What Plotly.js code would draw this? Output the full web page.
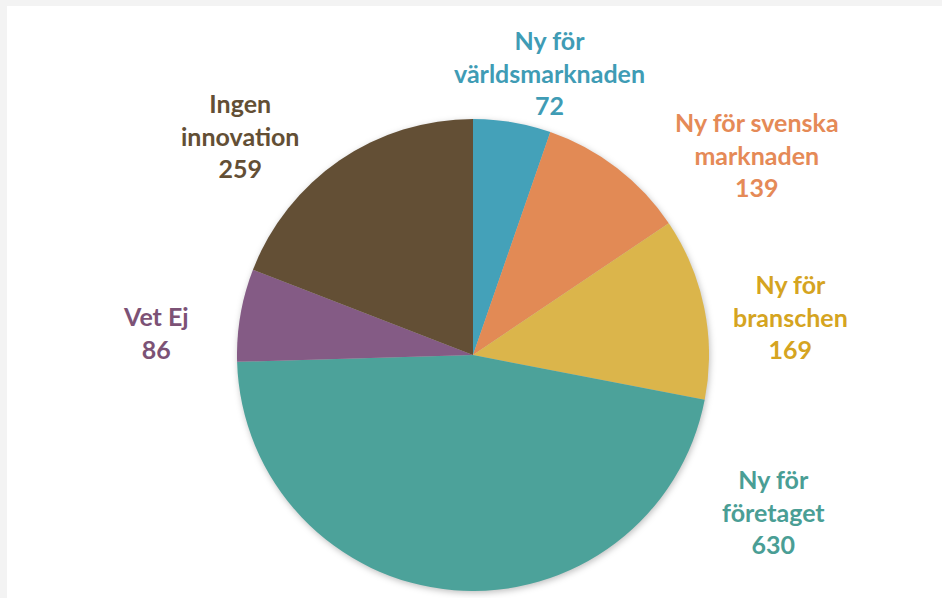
<!DOCTYPE html>
<html>
<head>
<meta charset="utf-8">
<script src="https://cdn.plot.ly/plotly-3.0.1.min.js"></script>
<style>
  html, body { margin: 0; padding: 0; background: #ffffff; }
  #chart { width: 942px; height: 598px; }
  .pielayer { filter: drop-shadow(1px 2px 3px rgba(0,0,0,0.25)); }
</style>
</head>
<body>
<div id="chart"></div>
<script>
// Data
const categories = ["Ny för världsmarknaden", "Ny för svenska marknaden", "Ny för branschen", "Ny för företaget", "Vet Ej", "Ingen innovation"];
const labelLines = ["Ny för<br>världsmarknaden", "Ny för svenska<br>marknaden", "Ny för<br>branschen", "Ny för<br>företaget", "Vet Ej", "Ingen<br>innovation"];
const values = [72, 139, 169, 630, 86, 259];

// Styles
const sliceColors = ["#44a1b9", "#e28a55", "#dbb54b", "#4ca29a", "#845b85", "#634f35"];
const labelColors = ["#3f9cb5", "#e58a57", "#d5a421", "#4a9e95", "#7c5276", "#634f35"];
// label centers in pixels (x from left, y from top)
const labelPos = [[549, 72], [757, 154], [790, 316], [773, 511], [156, 332], [240, 136]];

const W = 942, H = 598;
const cx = 473, cy = 355, r = 236;

const trace = {
  type: "pie",
  labels: categories,
  values: values,
  sort: false,
  direction: "clockwise",
  rotation: 0,
  textinfo: "none",
  hoverinfo: "label+value",
  marker: { colors: sliceColors, line: { width: 0 } },
  domain: {
    x: [(cx - r) / W, (cx + r) / W],
    y: [(H - cy - r) / H, (H - cy + r) / H]
  },
  showlegend: false
};

const annotations = categories.map((c, i) => ({
  xref: "paper", yref: "paper",
  x: labelPos[i][0] / W,
  y: 1 - labelPos[i][1] / H,
  xanchor: "center", yanchor: "middle",
  text: labelLines[i] + "<br>" + values[i],
  showarrow: false,
  align: "center",
  font: { family: "Lato, 'Open Sans', sans-serif", size: 25, color: labelColors[i], weight: 700 }
}));

const layout = {
  width: W, height: H,
  margin: { l: 0, r: 0, t: 0, b: 0 },
  paper_bgcolor: "#ffffff",
  plot_bgcolor: "#ffffff",
  showlegend: false,
  annotations: annotations,
  shapes: [
    { type: "rect", xref: "paper", yref: "paper", x0: 0, x1: 7 / W, y0: 0, y1: 1, fillcolor: "#f3f3f3", line: { width: 0 }, layer: "below" },
    { type: "rect", xref: "paper", yref: "paper", x0: 0, x1: 1, y0: 1 - 6 / H, y1: 1, fillcolor: "#f3f3f3", line: { width: 0 }, layer: "below" }
  ]
};

Plotly.newPlot("chart", [trace], layout, { displayModeBar: false, staticPlot: true });
</script>
</body>
</html>
